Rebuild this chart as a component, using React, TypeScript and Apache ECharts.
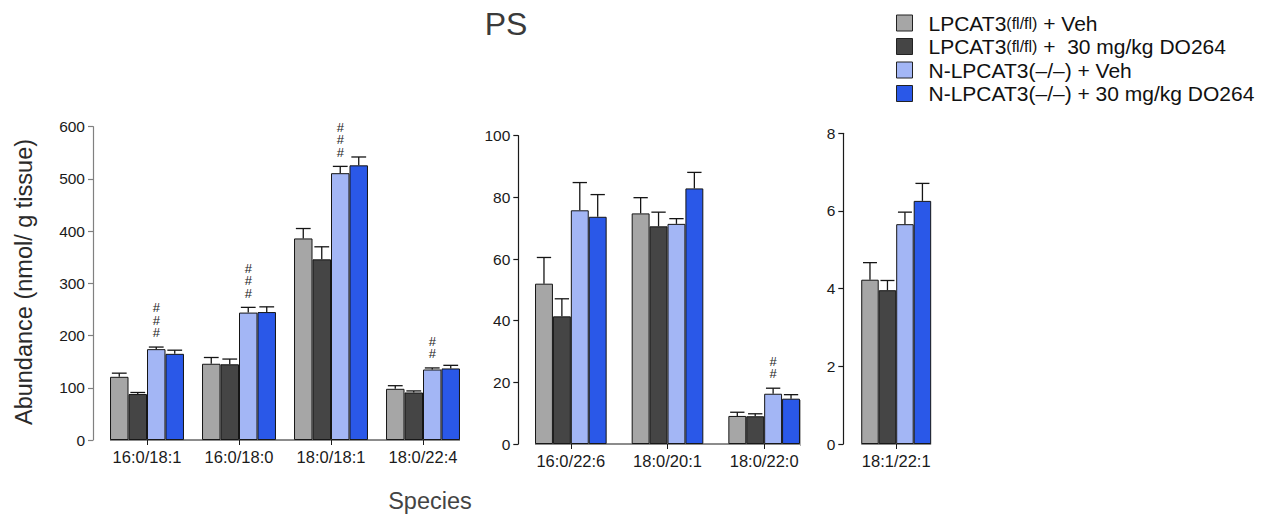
import React, { useEffect, useRef } from "react";
import * as echarts from "echarts";

// ---------- data ----------
const legendNames = [
  "LPCAT3(fl/fl) + Veh",
  "LPCAT3(fl/fl) +  30 mg/kg DO264",
  "N-LPCAT3(–/–) + Veh",
  "N-LPCAT3(–/–) + 30 mg/kg DO264",
];

const cats1 = ["16:0/18:1", "16:0/18:0", "18:0/18:1", "18:0/22:4"];
const p1FlVeh = [121, 146, 386, 98];
const p1FlDO = [88, 145, 346, 91];
const p1KoVeh = [174, 244, 511, 135];
const p1KoDO = [165, 245, 526, 137];
const p1FlVehErr = [7, 12, 19, 6];
const p1FlDOErr = [3, 10, 24, 3];
const p1KoVehErr = [4, 10, 13, 3];
const p1KoDOErr = [7, 10, 16, 6];
const p1Hash = [3, 3, 3, 2];

const cats2 = ["16:0/22:6", "18:0/20:1", "18:0/22:0"];
const p2FlVeh = [52.0, 74.8, 9.1];
const p2FlDO = [41.4, 70.6, 9.0];
const p2KoVeh = [75.8, 71.4, 16.3];
const p2KoDO = [73.7, 82.9, 14.7];
const p2FlVehErr = [8.5, 5.1, 1.2];
const p2FlDOErr = [5.7, 4.6, 0.8];
const p2KoVehErr = [9.0, 1.7, 1.8];
const p2KoDOErr = [7.2, 5.2, 1.3];
const p2Hash = [0, 0, 2];

const cats3 = ["18:1/22:1"];
const p3FlVeh = [4.23];
const p3FlDO = [3.96];
const p3KoVeh = [5.66];
const p3KoDO = [6.26];
const p3FlVehErr = [0.44];
const p3FlDOErr = [0.25];
const p3KoVehErr = [0.31];
const p3KoDOErr = [0.45];
const p3Hash = [0];

const yMax = [600, 100, 8];
const yInterval = [100, 20, 2];

// ---------- styling / layout ----------
const colors = ["#a6a6a6", "#454545", "#a3b6f5", "#2a58e8"];
const FONT = "'Liberation Sans', Arial, Helvetica, sans-serif";

const grids = [
  { left: 101, top: 126.7, width: 368, height: 313.3, gap: 0.196, offset: 8, axisColor: "#808080" },
  { left: 522.5, top: 135.7, width: 290, height: 308.3, gap: 0.259, offset: 4.2, axisColor: "#1a1a1a" },
  { left: 849, top: 133.3, width: 94.4, height: 310.7, gap: 0.259, offset: 5.7, axisColor: "#1a1a1a" },
];

const panels = [
  { cats: cats1, vals: [p1FlVeh, p1FlDO, p1KoVeh, p1KoDO], errs: [p1FlVehErr, p1FlDOErr, p1KoVehErr, p1KoDOErr], hash: p1Hash },
  { cats: cats2, vals: [p2FlVeh, p2FlDO, p2KoVeh, p2KoDO], errs: [p2FlVehErr, p2FlDOErr, p2KoVehErr, p2KoDOErr], hash: p2Hash },
  { cats: cats3, vals: [p3FlVeh, p3FlDO, p3KoVeh, p3KoDO], errs: [p3FlVehErr, p3FlDOErr, p3KoVehErr, p3KoDOErr], hash: p3Hash },
];

function buildOption() {
  const series: any[] = [];
  const xAxis: any[] = [];
  const yAxis: any[] = [];
  const grid: any[] = [];
  const graphic: any[] = [];

  panels.forEach((p, pi) => {
    const g = grids[pi];
    grid.push({ left: g.left, top: g.top, width: g.width, height: g.height, containLabel: false });
    xAxis.push({
      type: "category",
      gridIndex: pi,
      data: p.cats,
      axisLine: { show: false },
      axisTick: { show: true, alignWithLabel: true, length: 5, lineStyle: { color: "#1a1a1a", width: 1 } },
      axisLabel: { fontSize: 16.5, color: "#1a1a1a", margin: 8, fontFamily: FONT },
      splitLine: { show: false },
    });
    yAxis.push({
      type: "value",
      gridIndex: pi,
      min: 0,
      max: yMax[pi],
      interval: yInterval[pi],
      offset: g.offset,
      axisLine: { show: true, lineStyle: { color: g.axisColor, width: 1.2 } },
      axisTick: { show: true, length: 5, lineStyle: { color: g.axisColor, width: 1.2 } },
      axisLabel: { fontSize: 15.5, color: "#1a1a1a", margin: 8, fontFamily: FONT },
      splitLine: { show: false },
    });

    p.vals.forEach((vals, s) => {
      series.push({
        type: "bar",
        name: legendNames[s],
        xAxisIndex: pi,
        yAxisIndex: pi,
        data: vals,
        barGap: "0%",
        barCategoryGap: (g.gap * 100).toFixed(1) + "%",
        itemStyle: { color: colors[s], borderColor: "#151515", borderWidth: 1 },
        z: 2,
      });
    });

    const errData: any[] = [];
    p.vals.forEach((vals, s) => {
      vals.forEach((v, ci) => {
        errData.push([ci, v + p.errs[s][ci], s, v, s === 2 ? p.hash[ci] : 0]);
      });
    });
    const gapFrac = g.gap;
    series.push({
      type: "custom",
      name: "errors" + pi,
      xAxisIndex: pi,
      yAxisIndex: pi,
      data: errData,
      encode: { x: 0, y: 1 },
      z: 5,
      silent: true,
      renderItem: (params: any, api: any) => {
        const ci = api.value(0);
        const top = api.value(1);
        const s = api.value(2);
        const v = api.value(3);
        const h = api.value(4);
        const base = api.coord([ci, v]);
        const tp = api.coord([ci, top]);
        const band = api.size([1, 0])[0];
        const bw = (band * (1 - gapFrac)) / 4;
        const cx = base[0] + (s - 1.5) * bw;
        const cap = bw * 0.8;
        const children: any[] = [
          { type: "line", shape: { x1: cx, y1: base[1], x2: cx, y2: tp[1] }, style: { stroke: "#151515", lineWidth: 1.3 } },
          { type: "line", shape: { x1: cx - cap / 2, y1: tp[1], x2: cx + cap / 2, y2: tp[1] }, style: { stroke: "#151515", lineWidth: 1.3 } },
        ];
        if (h > 0) {
          children.push({
            type: "text",
            style: {
              text: Array(h).fill("#").join("\n"),
              x: cx,
              y: tp[1] - 8,
              align: "center",
              verticalAlign: "bottom",
              fontSize: 13,
              lineHeight: 12.5,
              fill: "#222",
              fontFamily: FONT,
            },
          });
        }
        return { type: "group", children };
      },
    });

    // x baseline spanning the bar groups
    const band = g.width / p.cats.length;
    const x1 = g.left + (band * g.gap) / 2;
    const x2 = g.left + g.width - (band * g.gap) / 2;
    const yb = g.top + g.height;
    graphic.push({
      type: "line",
      shape: { x1, y1: yb, x2, y2: yb },
      style: { stroke: "#1a1a1a", lineWidth: 1.2 },
      z: 10,
    });
  });

  graphic.push(
    {
      type: "text",
      style: { text: "PS", x: 506, y: 24, align: "center", verticalAlign: "middle", fontSize: 32, fill: "#3a3a3a", fontFamily: FONT },
    },
    {
      type: "text",
      x: 24,
      y: 282,
      rotation: Math.PI / 2,
      style: { text: "Abundance (nmol/ g tissue)", x: 0, y: 0, align: "center", verticalAlign: "middle", fontSize: 23.5, fill: "#2a2a2a", fontFamily: FONT },
    },
    {
      type: "text",
      style: { text: "Species", x: 430, y: 501, align: "center", verticalAlign: "middle", fontSize: 23.5, fill: "#444", fontFamily: FONT },
    },
    {
      type: "line",
      shape: { x1: 800.5, y1: 400, x2: 800.5, y2: 446 },
      style: { stroke: "#b0b0b0", lineWidth: 1 },
    }
  );

  return {
    animation: false,
    backgroundColor: "#ffffff",
    textStyle: { fontFamily: FONT },
    legend: {
      data: legendNames,
      orient: "vertical",
      left: 896,
      top: 12,
      itemWidth: 16,
      itemHeight: 16,
      itemGap: 1.5,
      icon: "rect",
      selectedMode: false,
      padding: 0,
      itemStyle: { borderColor: "#222", borderWidth: 1 },
      formatter: (name: string) => name.replace("(fl/fl)", "{s|(fl/fl)}"),
      textStyle: {
        fontSize: 21,
        lineHeight: 22,
        color: "#111",
        fontFamily: FONT,
        padding: [0, 0, 0, 11],
        rich: { s: { fontSize: 16, lineHeight: 22, color: "#111", fontFamily: FONT } },
      },
    },
    grid,
    xAxis,
    yAxis,
    series,
    graphic,
  };
}

export default function App() {
  const ref = useRef<HTMLDivElement>(null);
  useEffect(() => {
    document.body.style.margin = "0";
    if (!ref.current) return;
    const chart = echarts.init(ref.current, undefined, { renderer: "svg" });
    chart.setOption(buildOption() as any);
    return () => chart.dispose();
  }, []);
  return <div ref={ref} style={{ width: 1275, height: 518 }} />;
}
